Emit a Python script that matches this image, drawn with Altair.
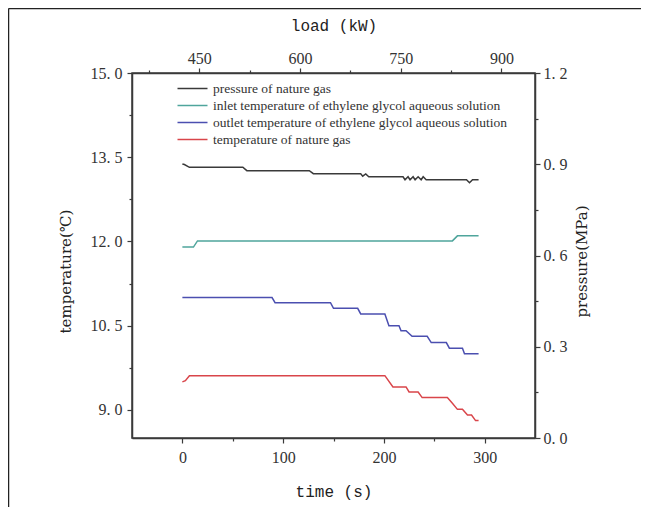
import altair as alt
import pandas as pd

# ---------------- data ----------------
series_names = [
    "pressure of nature gas",
    "inlet temperature of ethylene glycol aqueous solution",
    "outlet temperature of ethylene glycol aqueous solution",
    "temperature of nature gas",
]
series_colors = ["#3a3a3a", "#4fa59c", "#4b4fb0", "#d9454a"]

pressure_t = [0, 2, 7, 60, 64, 126, 130, 177, 179, 182, 185, 219, 221, 224, 226, 229,
              231, 234, 237, 239, 242, 282, 285, 288, 294]
pressure_v = [0.901, 0.899, 0.890, 0.890, 0.879, 0.879, 0.869, 0.869, 0.861, 0.868, 0.859,
              0.859, 0.849, 0.859, 0.849, 0.859, 0.849, 0.859, 0.849, 0.859, 0.849, 0.849,
              0.839, 0.849, 0.849]

inlet_t = [0, 11, 15, 268, 273, 294]
inlet_v = [11.90, 11.90, 12.01, 12.01, 12.10, 12.10]

outlet_t = [0, 89, 92, 147, 150, 174, 177, 201, 205, 215, 217, 222, 228, 243, 247, 262,
            265, 278, 280, 294]
outlet_v = [11.00, 11.00, 10.91, 10.91, 10.81, 10.81, 10.71, 10.71, 10.50, 10.50, 10.41,
            10.41, 10.31, 10.31, 10.20, 10.20, 10.10, 10.10, 10.00, 10.00]

gas_t = [0, 3, 7, 201, 209, 222, 225, 234, 238, 263, 268, 273, 278, 283, 287, 291, 294]
gas_v = [9.50, 9.52, 9.61, 9.61, 9.41, 9.41, 9.32, 9.32, 9.22, 9.22, 9.12, 9.01, 9.01,
         8.91, 8.91, 8.81, 8.81]

load_domain = [350, 950]
load_ticks = [375, 450, 525, 600, 675, 750, 825, 900]
time_ticks = [0, 50, 100, 150, 200, 250, 300]
temp_ticks = [9.0, 9.75, 10.5, 11.25, 12.0, 12.75, 13.5, 14.25, 15.0]
pres_ticks = [0.0, 0.15, 0.3, 0.45, 0.6, 0.75, 0.9, 1.05, 1.2]

# ---------------- tables ----------------
temp_df = pd.concat([
    pd.DataFrame({"time": inlet_t, "value": inlet_v, "series": series_names[1], "ord": range(len(inlet_t))}),
    pd.DataFrame({"time": outlet_t, "value": outlet_v, "series": series_names[2], "ord": range(len(outlet_t))}),
    pd.DataFrame({"time": gas_t, "value": gas_v, "series": series_names[3], "ord": range(len(gas_t))}),
])
pres_df = pd.DataFrame({"time": pressure_t, "value": pressure_v, "series": series_names[0],
                        "ord": range(len(pressure_t))})
load_df = pd.DataFrame({"load": load_domain})
one_df = pd.DataFrame({"a": [0]})

AX = "#3a3a3a"
LF = "Liberation Serif"

color = alt.Color("series:N",
                  scale=alt.Scale(domain=series_names, range=series_colors),
                  legend=alt.Legend(title=None, orient="none", legendX=52, legendY=7,
                                    symbolType="M-2,0H2", symbolSize=225,
                                    symbolStrokeWidth=1.5, labelFont=LF,
                                    labelFontSize=13.5, labelColor="#333", labelLimit=0,
                                    rowPadding=2, labelOffset=12))

x_time = alt.X("time:Q", scale=alt.Scale(domain=[-50, 350], nice=False),
               axis=alt.Axis(values=time_ticks, title="time (s)", grid=False,
                             labelExpr="datum.value % 100 === 0 ? datum.label : ''",
                             tickSize={"condition": {"test": "datum.value % 100 === 0", "value": 5}, "value": 3},
                             titleFont="Liberation Mono", titleFontSize=16, titleFontWeight="normal",
                             titlePadding=18, labelPadding=6))

temp_layer = alt.Chart(temp_df).mark_line(strokeWidth=1.5).encode(
    x=x_time,
    y=alt.Y("value:Q", scale=alt.Scale(domain=[8.5, 15.0], nice=False, zero=False),
            axis=alt.Axis(values=temp_ticks, title="temperature(℃)", grid=False, orient="left",
                          labelExpr="datum.value % 1.5 === 0 ? replace(format(datum.value, '.1f'), '.', '. ') : ''",
                          tickSize={"condition": {"test": "datum.value % 1.5 === 0", "value": 5}, "value": 3},
                          titleFont="DejaVu Serif", titleFontSize=15, titleFontWeight="normal",
                          titlePadding=17, labelPadding=5, titleY=198)),
    color=color,
    order="ord:Q",
)

pres_layer = alt.Chart(pres_df).mark_line(strokeWidth=1.5).encode(
    x=alt.X("time:Q", scale=alt.Scale(domain=[-50, 350], nice=False), axis=None),
    y=alt.Y("value:Q", scale=alt.Scale(domain=[0, 1.2], nice=False),
            axis=alt.Axis(values=pres_ticks, title="pressure(MPa)", grid=False, orient="right",
                          labelExpr="abs(round(datum.value * 10) % 3) === 0 ? replace(format(datum.value, '.1f'), '.', '. ') : ''",
                          tickSize={"condition": {"test": "abs(round(datum.value * 10) % 3) === 0", "value": 5}, "value": 3},
                          titleFont="DejaVu Serif", titleFontSize=15, titleFontWeight="normal",
                          titleAngle=270, titlePadding=22, labelPadding=3, titleY=188)),
    color=color,
    order="ord:Q",
)

load_layer = alt.Chart(load_df).mark_point(opacity=0).encode(
    x=alt.X("load:Q", scale=alt.Scale(domain=load_domain, nice=False, zero=False),
            axis=alt.Axis(values=load_ticks, title="load (kW)", grid=False, orient="top",
                          labelExpr="datum.value % 150 === 0 ? datum.label : ''",
                          tickSize={"condition": {"test": "datum.value % 150 === 0", "value": 5}, "value": 3},
                          titleFont="Liberation Mono", titleFontSize=16, titleFontWeight="normal",
                          titlePadding=17, labelPadding=2)),
)

border_top = alt.Chart(one_df).mark_rule(color="#222", strokeWidth=1.5).encode(
    x=alt.value(-123.5), x2=alt.value(520), y=alt.value(-64.5))
border_left = alt.Chart(one_df).mark_rule(color="#222", strokeWidth=1.5).encode(
    x=alt.value(-123.5), y=alt.value(-64.5), y2=alt.value(440))

chart = alt.layer(temp_layer, pres_layer, load_layer, border_top, border_left).resolve_scale(
    x="independent", y="independent"
).properties(
    width=403, height=365,
    autosize=alt.AutoSizeParams(type="none"),
    padding={"left": 124, "top": 65, "right": 106, "bottom": 69},
).configure_axis(
    domainColor=AX, domainWidth=1.5, tickColor=AX, tickWidth=1.2,
    labelFont=LF, labelFontSize=16, labelColor="#333", titleColor="#222",
).configure_view(
    stroke=AX, strokeWidth=1.5
)

chart.save("out.html", embed_options={"renderer": "svg", "actions": False})
